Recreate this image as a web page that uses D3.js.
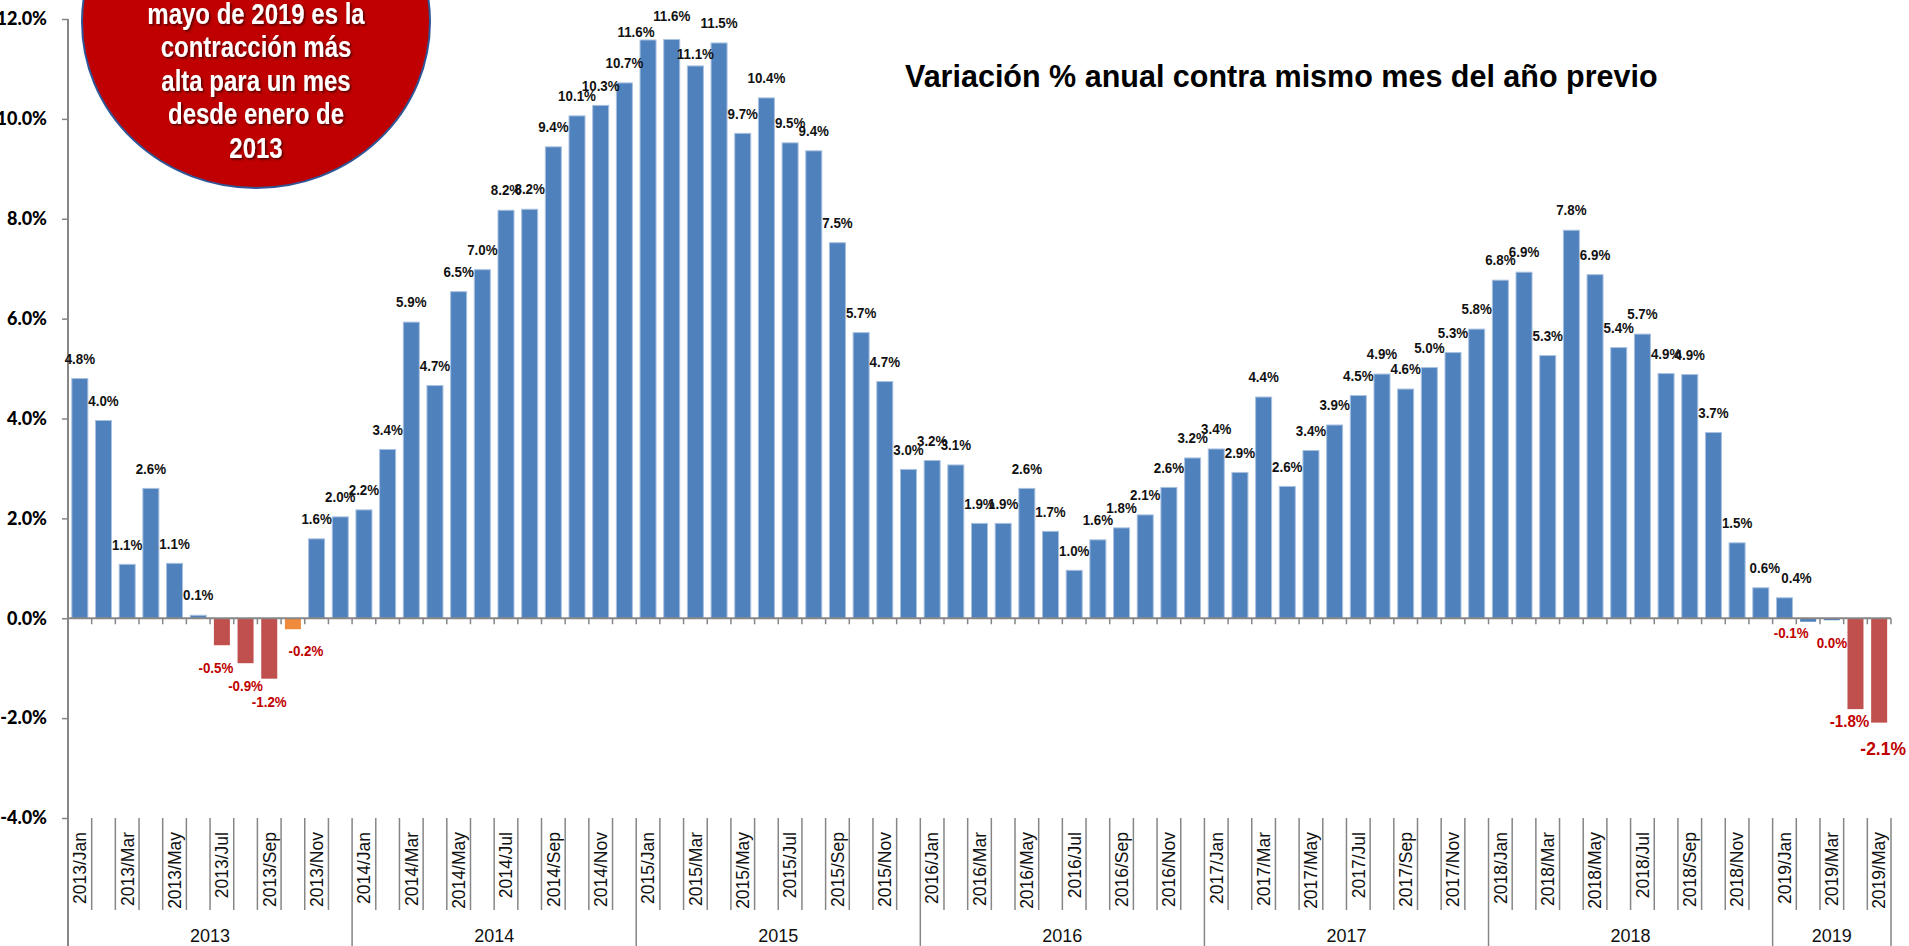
<!DOCTYPE html>
<html>
<head>
<meta charset="utf-8">
<script src="https://cdn.jsdelivr.net/npm/d3@7"></script>
<style>
  body { margin: 0; background: #fff; }
  svg { display: block; }
</style>
</head>
<body>
<svg id="chart"></svg>
<script>
const years = ["2013", "2014", "2015", "2016", "2017", "2018", "2019"];
const monthNames = ["Jan", "Feb", "Mar", "Apr", "May", "Jun", "Jul", "Aug", "Sep", "Oct", "Nov", "Dec"];

// variación % anual, mes a mes
const values2013 = [4.80, 3.96, 1.08, 2.60, 1.10, 0.06, -0.54, -0.90, -1.21, -0.22, 1.59, 2.03];
const values2014 = [2.17, 3.38, 5.93, 4.66, 6.54, 6.98, 8.17, 8.19, 9.44, 10.06, 10.27, 10.72];
const values2015 = [11.58, 11.59, 11.06, 11.52, 9.71, 10.42, 9.52, 9.36, 7.52, 5.72, 4.74, 2.98];
const values2016 = [3.16, 3.07, 1.90, 1.90, 2.60, 1.74, 0.96, 1.57, 1.81, 2.07, 2.62, 3.21];
const values2017 = [3.39, 2.92, 4.43, 2.64, 3.36, 3.87, 4.46, 4.89, 4.59, 5.02, 5.32, 5.79];
const values2018 = [6.77, 6.93, 5.26, 7.77, 6.88, 5.42, 5.69, 4.90, 4.88, 3.72, 1.51, 0.61];
const values2019 = [0.41, -0.07, -0.04, -1.82, -2.09];

const yTicks = [-4, -2, 0, 2, 4, 6, 8, 10, 12];
const orangeMonths = ["2013/Oct"];

const title = "Variación % anual contra mismo mes del año previo";
const noteLines = ["mayo de 2019 es la", "contracción más", "alta para un mes", "desde enero de", "2013"];

const allValues = [values2013, values2014, values2015, values2016, values2017, values2018, values2019];
const data = [];
allValues.forEach((arr, i) => {
  arr.forEach((v, j) => data.push({ year: years[i], month: `${years[i]}/${monthNames[j]}`, value: v }));
});
const months = data.map(d => d.month);

// labels that Excel moved around a bit
const labelNudge = {
  "2013/Jul": { dx: -6 },
  "2013/Oct": { dx: 13, dy: -1 },
  "2015/Jan": { dx: -12, dy: 12 },
  "2015/Feb": { dy: -4 },
  "2015/Mar": { dy: 8 },
  "2018/Dec": { dx: 4 },
  "2019/Jan": { dx: 12 },
  "2019/Feb": { dx: -17, dy: -12 },
  "2019/Apr": { dx: -6, dy: -11, size: 16.5 },
  "2019/May": { dx: 4, dy: 3, size: 19 }
};

const width = 1909;
const height = 946;
const plotLeft = 68, plotRight = 1891, plotTop = 19, plotBottom = 818;

const svg = d3.select("#chart")
  .attr("width", width)
  .attr("height", height);

const x = d3.scaleBand()
  .domain(months)
  .range([plotLeft, plotRight])
  .paddingInner(0.324)
  .paddingOuter(0.162);

const y = d3.scaleLinear()
  .domain([-4, 12])
  .range([plotBottom, plotTop]);

const step = x.step();
const edge = i => plotLeft + i * step;
const fmt = d3.format(".1f");
const pct = v => fmt(v).replace("\u2212", "-") + "%";

const axisColor = "#868686";

// y axis
const yAxis = svg.append("g")
  .attr("transform", `translate(${plotLeft},0)`)
  .call(d3.axisLeft(y).tickValues(yTicks).tickSize(6).tickPadding(15).tickFormat(pct));
yAxis.select(".domain").remove();
yAxis.selectAll(".tick line").attr("stroke", axisColor).attr("stroke-width", 1.5);
yAxis.selectAll(".tick text")
  .attr("fill", "#000")
  .style("font-family", "Lato, 'Open Sans', sans-serif")
  .style("font-weight", "900")
  .style("font-size", "18px");

svg.append("line")
  .attr("x1", plotLeft).attr("x2", plotLeft)
  .attr("y1", plotTop).attr("y2", height)
  .attr("stroke", axisColor).attr("stroke-width", 2);

// bars
svg.append("g").selectAll("rect")
  .data(data)
  .join("rect")
  .attr("x", d => x(d.month))
  .attr("width", x.bandwidth())
  .attr("y", d => y(Math.max(0, d.value)))
  .attr("height", d => Math.abs(y(d.value) - y(0)))
  .attr("fill", d => orangeMonths.includes(d.month) ? "#F08A3C" : d.value < -0.3 ? "#C0504D" : "#4F81BD")
  .attr("stroke", d => d.value >= 0 ? "#A9C1E0" : "none")
  .attr("stroke-width", 1);

// zero line + ticks
svg.append("line")
  .attr("x1", plotLeft).attr("x2", plotRight)
  .attr("y1", y(0)).attr("y2", y(0))
  .attr("stroke", axisColor).attr("stroke-width", 2);

svg.append("g").selectAll("line")
  .data(d3.range(months.length + 1))
  .join("line")
  .attr("x1", edge).attr("x2", edge)
  .attr("y1", y(0)).attr("y2", y(0) + 6)
  .attr("stroke", axisColor).attr("stroke-width", 1.5);

// data labels
svg.append("g").selectAll("text")
  .data(data)
  .join("text")
  .attr("transform", d => {
    const n = labelNudge[d.month] || {};
    const lx = x(d.month) + x.bandwidth() / 2 + (n.dx || 0);
    const ly = d.value >= 0 ? y(d.value) - 20 + (n.dy || 0) : y(d.value) + 23 + (n.dy || 0);
    return `translate(${lx},${ly}) scale(0.92,1)`;
  })
  .attr("dy", "0.36em")
  .attr("text-anchor", "middle")
  .attr("fill", d => d.value < 0 ? "#C00000" : "#111")
  .style("font-family", "'Liberation Sans', Arial, sans-serif")
  .style("font-weight", "bold")
  .style("font-size", d => ((labelNudge[d.month] || {}).size || 14.5) + "px")
  .text(d => pct(d.value));

// category area
svg.append("g").selectAll("line")
  .data(d3.range(months.length + 1))
  .join("line")
  .attr("x1", edge).attr("x2", edge)
  .attr("y1", plotBottom)
  .attr("y2", i => (i % 12 === 0 || i === months.length) ? height : 910)
  .attr("stroke", axisColor).attr("stroke-width", 1.5);

svg.append("g").selectAll("text")
  .data(data.filter((d, i) => i % 2 === 0))
  .join("text")
  .attr("transform", d => `translate(${x(d.month) + x.bandwidth() / 2},832) rotate(-90)`)
  .attr("dy", "0.36em")
  .attr("text-anchor", "end")
  .attr("fill", "#111")
  .style("font-family", "'Liberation Sans', Arial, sans-serif")
  .style("font-size", "17.5px")
  .text(d => d.month);

svg.append("g").selectAll("text")
  .data(years)
  .join("text")
  .attr("x", (yr, i) => {
    const a = i * 12;
    const b = Math.min((i + 1) * 12, months.length);
    return (edge(a) + edge(b)) / 2;
  })
  .attr("y", 942)
  .attr("text-anchor", "middle")
  .attr("fill", "#111")
  .style("font-family", "'Liberation Sans', Arial, sans-serif")
  .style("font-size", "18px")
  .text(d => d);

// title
svg.append("text")
  .attr("x", 905)
  .attr("y", 87)
  .attr("fill", "#000")
  .style("font-family", "'Liberation Sans', Arial, sans-serif")
  .style("font-weight", "bold")
  .style("font-size", "30.5px")
  .text(title);

// red note bubble
const defs = svg.append("defs");
const shadow = defs.append("filter").attr("id", "shadow")
  .attr("x", "-10%").attr("y", "-10%").attr("width", "130%").attr("height", "130%");
shadow.append("feDropShadow")
  .attr("dx", 1.5).attr("dy", 1.5).attr("stdDeviation", 1)
  .attr("flood-color", "#000").attr("flood-opacity", 0.6);

svg.append("ellipse")
  .attr("cx", 256).attr("cy", 22)
  .attr("rx", 174).attr("ry", 166)
  .attr("fill", "#C00000")
  .attr("stroke", "#2F5597")
  .attr("stroke-width", 2);

svg.append("g")
  .attr("filter", "url(#shadow)")
  .selectAll("text")
  .data(noteLines)
  .join("text")
  .attr("transform", (d, i) => `translate(256,${13 + i * 33.5}) scale(1,1.25)`)
  .attr("dy", "0.36em")
  .attr("text-anchor", "middle")
  .attr("fill", "#fff")
  .style("font-family", "'Liberation Sans', Arial, sans-serif")
  .style("font-weight", "bold")
  .style("font-size", "24px")
  .text(d => d);
</script>
</body>
</html>
